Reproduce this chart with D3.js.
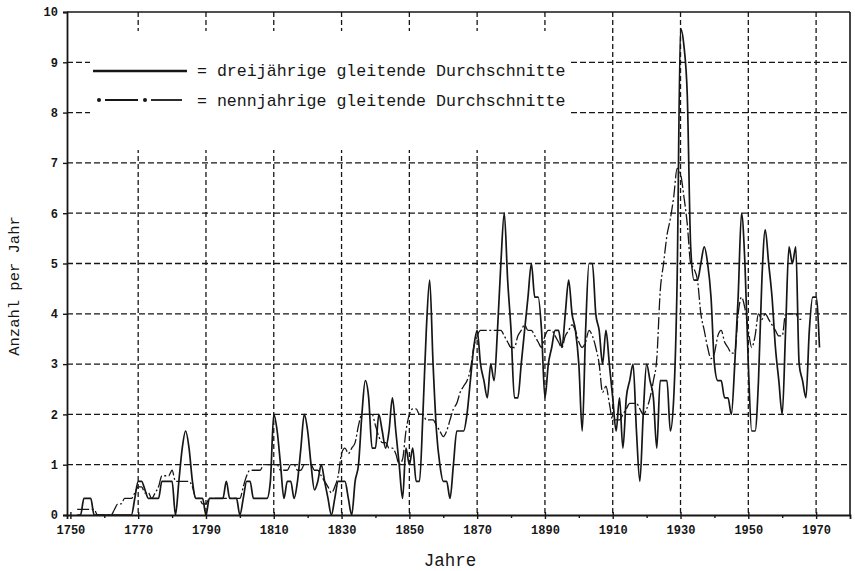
<!DOCTYPE html>
<html><head><meta charset="utf-8">
<script src="https://cdn.jsdelivr.net/npm/d3@7"></script>
<style>body{margin:0;background:#fff}svg{display:block}</style>
</head><body><svg id="c" width="855" height="571"></svg>
<script>
// ---- data ----
const start3 = 1752; // first year of the 3-year moving average
const dreijaehrig = [
 0,0,0.33,0.33,0.33,0,0,0,0,0,            // 1752-1761
 0,0,0,0,0,0,0,0.33,0.67,0.67,            // 1762-1771
 0.5,0.33,0.33,0.33,0.33,0.67,0.67,0.67,0.67,0, // 1772-1781
 0.67,1.33,1.67,1.33,0.67,0.33,0.33,0.33,0,0.33, // 1782-1791
 0.33,0.33,0.33,0.33,0.67,0.33,0.33,0.33,0,0.33, // 1792-1801
 0.67,0.67,0.33,0.33,0.33,0.33,0.33,0.67,2.0,1.67, // 1802-1811
 1.0,0.33,0.67,0.67,0.33,0.67,1.33,2.0,1.67,1.0,  // 1812-1821
 0.5,0.67,1.0,0.67,0.33,0,0.33,0.67,0.67,0.67,    // 1822-1831
 0.33,0,0.67,1.0,2.0,2.67,2.33,1.33,1.33,2.0,     // 1832-1841
 1.67,1.33,1.67,2.33,1.67,1.0,0.33,1.33,1.0,1.33, // 1842-1851
 0.67,0.67,2.0,3.67,4.67,3.0,1.67,1.0,0.67,0.67,  // 1852-1861
 0.33,1.0,1.67,1.67,1.67,2.0,2.67,3.33,3.67,3.0,  // 1862-1871
 2.67,2.33,3.0,2.67,3.67,5.0,6.0,4.67,3.67,2.33,  // 1872-1881
 2.33,3.0,3.67,4.33,5.0,4.33,4.33,3.67,2.33,3.0,  // 1882-1891
 3.33,3.67,3.67,3.33,4.0,4.67,4.0,3.67,3.0,1.67,  // 1892-1901
 3.67,5.0,5.0,4.0,3.67,3.0,3.67,3.0,2.33,1.67,    // 1902-1911
 2.33,1.33,2.33,2.67,3.0,1.67,0.67,2.0,3.0,2.67,  // 1912-1921
 2.33,1.33,2.67,2.67,2.67,1.67,2.33,4.67,9.67,9.33, // 1922-1931
 8.33,5.33,4.67,4.67,5.0,5.33,5.0,4.33,3.0,2.67,  // 1932-1941
 2.67,2.33,2.33,2.0,3.0,4.33,6.0,5.0,3.0,1.67,    // 1942-1951
 1.67,2.67,4.67,5.67,5.0,4.33,3.33,2.67,2.0,3.67, // 1952-1961
 5.33,5.0,5.33,3.0,2.67,2.33,3.67,4.33,4.33,3.33  // 1962-1971
];
const start9 = 1752; // first year of the 9-year moving average
const neunjaehrig = [
 0.11,0.11,0.11,0.11,0.11,0.11,0,0,0,0,           // 1752-1761
 0,0.11,0.22,0.22,0.33,0.33,0.33,0.44,0.56,0.56,  // 1762-1771
 0.44,0.44,0.33,0.44,0.56,0.78,0.78,0.78,0.89,0.67, // 1772-1781
 0.67,0.67,0.67,0.67,0.56,0.33,0.33,0.22,0.22,0.33, // 1782-1791
 0.33,0.33,0.33,0.33,0.33,0.33,0.33,0.33,0.33,0.56, // 1792-1801
 0.78,0.89,0.89,0.89,0.89,1.0,1.0,1.0,1.0,1.0,    // 1802-1811
 0.89,0.89,0.89,1.0,1.0,0.89,0.89,1.0,1.0,1.0,    // 1812-1821
 0.89,0.89,0.78,0.67,0.56,0.44,0.56,0.78,1.22,1.33, // 1822-1831
 1.22,1.33,1.44,1.78,2.0,2.0,2.0,2.0,1.78,1.56,   // 1832-1841
 1.44,1.44,1.33,1.33,1.22,1.0,1.11,1.67,2.0,2.11, // 1842-1851
 2.11,2.0,2.0,1.89,1.89,1.89,1.78,1.67,1.56,1.67, // 1852-1861
 1.89,2.11,2.22,2.44,2.56,2.67,2.89,3.33,3.56,3.67, // 1862-1871
 3.67,3.67,3.67,3.67,3.67,3.67,3.56,3.44,3.33,3.33, // 1872-1881
 3.56,3.67,3.78,3.67,3.67,3.56,3.44,3.33,3.56,3.67, // 1882-1891
 3.67,3.56,3.44,3.33,3.56,3.67,3.78,3.67,3.44,3.33, // 1892-1901
 3.44,3.67,3.56,3.33,3.0,2.44,2.56,2.22,1.89,1.89,  // 1902-1911
 1.89,2.0,2.11,2.22,2.22,2.22,2.11,2.0,2.11,2.33,   // 1912-1921
 2.67,3.11,4.44,5.0,5.56,5.89,6.33,6.89,6.78,6.33,  // 1922-1931
 5.78,5.0,4.89,4.67,4.0,3.67,3.33,3.11,3.22,3.56,   // 1932-1941
 3.67,3.44,3.33,3.22,3.22,4.0,4.33,4.11,3.67,3.33,  // 1942-1951
 3.56,4.0,3.89,4.0,3.89,3.78,3.67,3.56,3.56,4.0,    // 1952-1961
 4.0,4.0,4.0,3.89,3.89                              // 1962-1966
];
const xTicks = [1750,1770,1790,1810,1830,1850,1870,1890,1910,1930,1950,1970];
const xMinor = [1760,1780,1800,1820,1840,1860,1880,1900,1920,1940,1960];
const yTicks = [0,1,2,3,4,5,6,7,8,9,10];
const legendLabels = ["= dreijährige gleitende Durchschnitte", "= nennjahrige gleitende Durchschnitte"];
const xTitle = "Jahre";
const yTitle = "Anzahl per Jahr";

// ---- drawing ----
const svg = d3.select("#c");
const L = 67, R = 850, T = 12, B = 515;
const x = d3.scaleLinear().domain([1749, 1980]).range([L, R]);
const y = d3.scaleLinear().domain([0, 10]).range([B, T]);
const ink = "#161616";
const mono = "'Liberation Mono','DejaVu Sans Mono',monospace";

const grid = svg.append("g").attr("stroke", ink).attr("stroke-width", 1.3).attr("fill", "none");
grid.selectAll("line.v").data(xTicks.slice(1)).join("line")
  .attr("x1", d => x(d)).attr("x2", d => x(d)).attr("y1", T).attr("y2", B)
  .attr("stroke-dasharray", "5,3");
grid.selectAll("line.h").data(yTicks.filter(d => d > 0 && d < 10)).join("line")
  .attr("x1", L).attr("x2", R).attr("y1", d => y(d)).attr("y2", d => y(d))
  .attr("stroke-dasharray", "6,3");

// legend area blanks the grid
svg.append("rect").attr("x", 90).attr("y", 31).attr("width", 481).attr("height", 119).attr("fill", "#fff");

const lg = svg.append("g");
lg.append("line").attr("x1", 93).attr("x2", 187).attr("y1", 71).attr("y2", 71)
  .attr("stroke", ink).attr("stroke-width", 2.6);
lg.append("line").attr("x1", 105).attr("x2", 138).attr("y1", 100).attr("y2", 100)
  .attr("stroke", ink).attr("stroke-width", 2.2);
lg.append("line").attr("x1", 151).attr("x2", 182).attr("y1", 100).attr("y2", 100)
  .attr("stroke", ink).attr("stroke-width", 1.8);
lg.selectAll("circle").data([99, 145]).join("circle")
  .attr("cx", d => d).attr("cy", 100).attr("r", 2).attr("fill", ink);
lg.selectAll("text").data(legendLabels).join("text")
  .attr("x", 197).attr("y", (d, i) => 76 + i * 30)
  .attr("font-family", mono).attr("font-size", 16.6).attr("fill", ink).text(d => d);

// series
const line = d3.line().x(d => x(d[0])).y(d => y(d[1])).curve(d3.curveMonotoneX);
const s3 = dreijaehrig.map((v, i) => [start3 + i, v]);
const s9 = neunjaehrig.map((v, i) => [start9 + i, v]);
svg.append("path").datum(s9).attr("d", line).attr("fill", "none")
  .attr("stroke", ink).attr("stroke-width", 1.3).attr("stroke-dasharray", "12,2.5,2,2.5");
svg.append("path").datum(s3).attr("d", line).attr("fill", "none")
  .attr("stroke", ink).attr("stroke-width", 1.7).attr("stroke-linejoin", "round");

// frame
const fr = svg.append("g").attr("stroke", ink).attr("stroke-width", 1.6).attr("fill", "none");
fr.append("line").attr("x1", L).attr("x2", R).attr("y1", T).attr("y2", T);
fr.append("line").attr("x1", R).attr("x2", R).attr("y1", T).attr("y2", B);

// axes
const xAxis = svg.append("g").attr("transform", `translate(0,${B})`)
  .call(d3.axisBottom(x).tickValues(xTicks).tickFormat(d3.format("d")).tickSize(4).tickPadding(6));
svg.append("g").attr("transform", `translate(0,${B})`)
  .call(d3.axisBottom(x).tickValues(xMinor).tickFormat("").tickSize(3))
  .select(".domain").remove();
const yAxis = svg.append("g").attr("transform", `translate(${L},0)`)
  .call(d3.axisLeft(y).tickValues(yTicks).tickFormat(d3.format("d")).tickSize(4).tickPadding(5));
svg.selectAll(".domain").attr("stroke", ink).attr("stroke-width", 1.8);
svg.selectAll(".tick line").attr("stroke", ink).attr("stroke-width", 1.4);
svg.selectAll(".tick text").attr("font-family", mono).attr("font-weight", "bold")
  .attr("font-size", 12).attr("fill", ink);
xAxis.selectAll(".tick line").attr("y1", -3);

svg.append("text").attr("x", 450).attr("y", 566).attr("text-anchor", "middle")
  .attr("font-family", mono).attr("font-size", 17.5).attr("fill", ink).text(xTitle);
svg.append("text").attr("transform", "translate(19,286) rotate(-90)").attr("text-anchor", "middle")
  .attr("font-family", mono).attr("font-size", 15.5).attr("fill", ink).text(yTitle);
</script></body></html>
